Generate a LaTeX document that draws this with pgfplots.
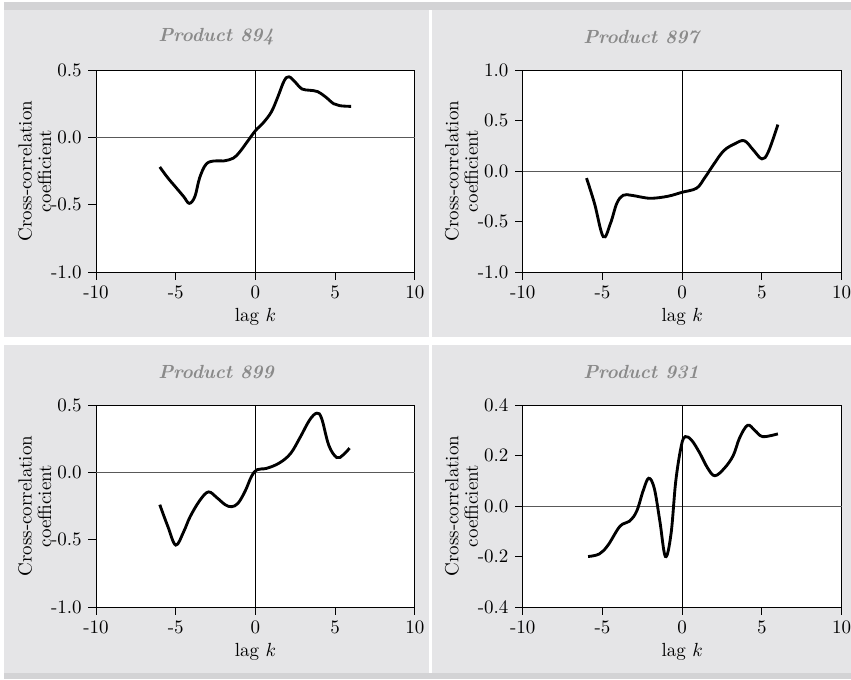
\documentclass[border=0pt]{standalone}
\usepackage{pgfplots}
\pgfplotsset{compat=1.18}
\definecolor{panelgray}{RGB}{229,229,231}
\definecolor{stripgray}{RGB}{211,211,213}
\definecolor{titlegray}{RGB}{138,138,138}
\pgfplotsset{
  panel/.style={
    scale only axis,
    width=167.9pt, height=106.3pt,
    anchor=south west,
    xmin=-10, xmax=10,
    xtick={-10,-5,0,5,10},
    axis background/.style={fill=white},
    axis line style={line width=0.5pt},
    tick style={black, line width=0.5pt},
    tick align=outside,
    major tick length=4pt,
    xtick pos=bottom, ytick pos=left,
    /pgf/number format/assume math mode=true,
    yticklabel style={/pgf/number format/fixed, /pgf/number format/fixed zerofill, /pgf/number format/precision=1},
    xlabel={lag $k$},
    ylabel={Cross-correlation\\coefficient},
    ylabel style={align=center, font=\normalsize\linespread{0.85}\selectfont, yshift=-7pt},
    xlabel style={yshift=2pt},
    clip=false,
  },
  curve/.style={black, line width=1.5pt, smooth, tension=0.6, no marks},
}
\begin{document}
\begin{tikzpicture}[x=0.5264pt,y=0.5264pt]
\useasboundingbox (0,0) rectangle (851,679);
\fill[white] (0,0) rectangle (851,679);
\fill[stripgray] (4,669) rectangle (851,677);
\fill[stripgray] (4,0) rectangle (851,6);
\fill[panelgray] (4,342) rectangle (429,669);
\fill[panelgray] (432,342) rectangle (851,669);
\fill[panelgray] (4,6) rectangle (429,334);
\fill[panelgray] (432,6) rectangle (851,334);
\node[text=titlegray, font=\bfseries\itshape] at (216,642) {Product 894};
\node[text=titlegray, font=\bfseries\itshape] at (641,642) {Product 897};
\node[text=titlegray, font=\bfseries\itshape] at (216,307) {Product 899};
\node[text=titlegray, font=\bfseries\itshape] at (641,307) {Product 931};

% Product 894
\begin{axis}[panel, at={(50.53pt,214.24pt)}, ymin=-1, ymax=0.5, ytick={-1,-0.5,0,0.5}]
\addplot[black!65, line width=0.5pt, forget plot] coordinates {(-10,0) (10,0)};
\addplot[black, line width=0.5pt, forget plot] coordinates {(0,-1) (0,0.5)};
\addplot[curve] coordinates {
(-6,-0.22) (-5.5,-0.30) (-5,-0.37) (-4.5,-0.44) (-4.15,-0.49) (-3.8,-0.44)
(-3.5,-0.30) (-3.1,-0.20) (-2.6,-0.175) (-2,-0.175) (-1.4,-0.155) (-1,-0.11)
(-0.5,-0.03) (0,0.05) (0.5,0.11) (1,0.19) (1.4,0.30) (1.8,0.42) (2.1,0.45)
(2.5,0.41) (2.9,0.36) (3.4,0.35) (3.9,0.34) (4.4,0.30) (4.9,0.25) (5.3,0.235) (6,0.23)
};
\end{axis}

% Product 897
\begin{axis}[panel, at={(275.15pt,214.24pt)}, ymin=-1, ymax=1, ytick={-1,-0.5,0,0.5,1}]
\addplot[black!65, line width=0.5pt, forget plot] coordinates {(-10,0) (10,0)};
\addplot[black, line width=0.5pt, forget plot] coordinates {(0,-1) (0,1)};
\addplot[curve] coordinates {
(-6,-0.07) (-5.5,-0.32) (-4.95,-0.65) (-4.5,-0.52) (-4.1,-0.32) (-3.7,-0.24)
(-3.2,-0.24) (-2.5,-0.26) (-1.9,-0.27) (-0.9,-0.25) (0,-0.21) (0.9,-0.17)
(1.4,-0.07) (1.95,0.06) (2.6,0.20) (3.3,0.27) (3.9,0.30) (4.45,0.21) (5,0.12)
(5.4,0.19) (6,0.46)
};
\end{axis}

% Product 899
\begin{axis}[panel, at={(50.53pt,37.9pt)}, ymin=-1, ymax=0.5, ytick={-1,-0.5,0,0.5}]
\addplot[black!65, line width=0.5pt, forget plot] coordinates {(-10,0) (10,0)};
\addplot[black, line width=0.5pt, forget plot] coordinates {(0,-1) (0,0.5)};
\addplot[curve] coordinates {
(-6,-0.24) (-5.5,-0.40) (-5,-0.54) (-4.5,-0.44) (-4.1,-0.33) (-3.5,-0.21)
(-2.95,-0.145) (-2.4,-0.19) (-1.9,-0.24) (-1.5,-0.255) (-1.1,-0.23) (-0.65,-0.14)
(-0.25,-0.03) (0.1,0.02) (0.7,0.03) (1.5,0.07) (2.2,0.14) (2.8,0.26) (3.4,0.39)
(3.85,0.44) (4.15,0.40) (4.6,0.20) (5.1,0.11) (5.5,0.13) (5.9,0.18)
};
\end{axis}

% Product 931
\begin{axis}[panel, at={(275.15pt,37.9pt)}, ymin=-0.4, ymax=0.4, ytick={-0.4,-0.2,0,0.2,0.4}]
\addplot[black!65, line width=0.5pt, forget plot] coordinates {(-10,0) (10,0)};
\addplot[black, line width=0.5pt, forget plot] coordinates {(0,-0.4) (0,0.4)};
\addplot[curve] coordinates {
(-5.9,-0.20) (-5.2,-0.19) (-4.65,-0.155) (-3.9,-0.08) (-3.3,-0.06) (-2.85,-0.02)
(-2.45,0.06) (-2.1,0.11) (-1.75,0.07) (-1.4,-0.06) (-1.05,-0.20) (-0.7,-0.11)
(-0.4,0.10) (-0.05,0.24) (0.2,0.275) (0.6,0.26) (1.1,0.21) (1.6,0.15) (2.05,0.12)
(2.65,0.15) (3.2,0.20) (3.6,0.27) (4.1,0.32) (4.55,0.30) (5.05,0.275) (6,0.286)
};
\end{axis}
\end{tikzpicture}
\end{document}
